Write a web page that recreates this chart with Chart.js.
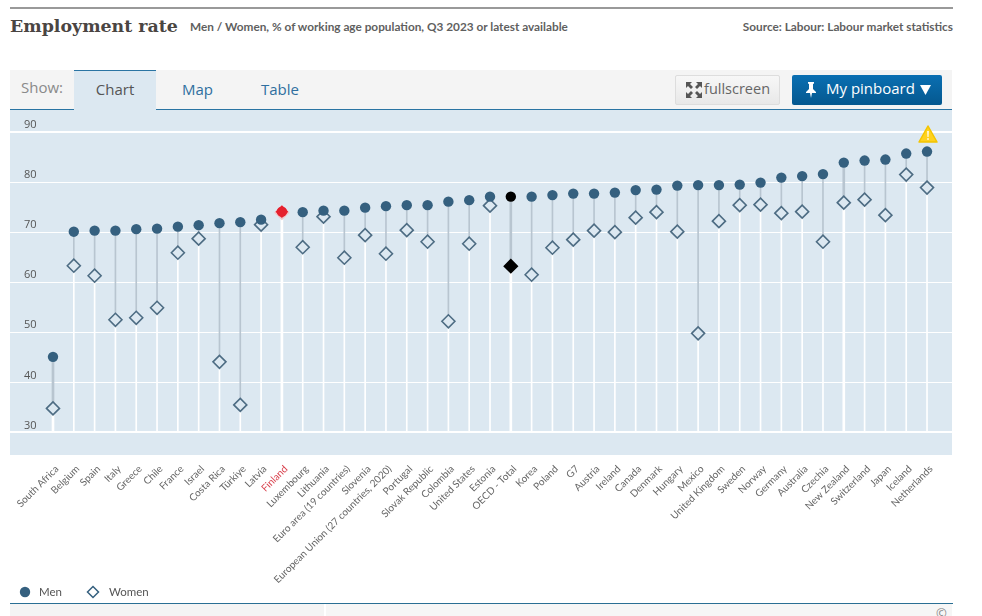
<!DOCTYPE html>
<html>
<head>
<meta charset="utf-8">
<title>Employment rate</title>
<script src="https://cdn.jsdelivr.net/npm/chart.js@4"></script>
<style>
html, body { margin: 0; padding: 0; background: #fff; width: 982px; height: 616px; overflow: hidden; font-family: "Open Sans", sans-serif; }
.abs { position: absolute; white-space: nowrap; }
#topline { left: 10px; top: 7px; width: 943px; height: 2px; background: #999; }
#title { left: 10px; top: 16px; font: bold 17.4px "DejaVu Serif", serif; color: #4a4542; }
#subtitle { left: 190px; top: 19px; font: bold 11.8px Lato, sans-serif; color: #5f5f5f; }
#source { right: 29px; top: 19px; font: bold 11.8px Lato, sans-serif; color: #5f5f5f; }
#tabbar { left: 10px; top: 70px; width: 942px; height: 39px; background: #f4f4f4; border-bottom: 1px solid #2a74a3; }
#show { left: 21px; top: 77px; font-size: 15px; color: #8a8a8a; }
#chartTab { left: 74px; top: 70px; width: 82px; height: 40px; background: #dce8f1; border-top: 1px solid #2a74a3; box-sizing: border-box; text-align: center; line-height: 36px; font-size: 15px; color: #555; }
.tab { top: 79px; font-size: 15px; color: #2f6f9f; }
#fullscreen { left: 675px; top: 75px; width: 105px; height: 30px; box-sizing: border-box; border: 1px solid #ddd; border-radius: 2px; background: linear-gradient(#f7f7f7, #e8e8e8); color: #666; font-size: 14.5px; line-height: 26px; padding-left: 28px; }
#fullscreen svg { position: absolute; left: 10px; top: 6px; }
#pinboard { left: 792px; top: 75px; width: 150px; height: 30px; box-sizing: border-box; border-radius: 2px; background: linear-gradient(#0a6fb2, #05588f); color: #fff; font-size: 15px; line-height: 27px; padding-left: 34px; }
#pinboard svg { position: absolute; left: 13px; top: 7px; }
#plot { left: 10px; top: 110px; width: 942px; height: 345px; background: #dce8f1; }
#wrap { left: 10px; top: 110px; width: 942px; height: 490px; }
#warn { left: 918px; top: 125px; }
.legendText { top: 585px; font: 11.5px Lato, sans-serif; color: #555; }
#botline { left: 10px; top: 603px; width: 943px; height: 1px; background: #2a6f94; }
#botleft { left: 10px; top: 604px; width: 314px; height: 12px; background: #f4f4f4; }
#botright { left: 326px; top: 604px; width: 626px; height: 12px; background: #f6f6f6; }
#copy { left: 936px; top: 604px; font-size: 13px; color: #888; }
</style>
</head>
<body>
<div class="abs" id="topline"></div>
<div class="abs" id="title">Employment rate</div>
<div class="abs" id="subtitle">Men / Women, % of working age population, Q3 2023 or latest available</div>
<div class="abs" id="source">Source: Labour: Labour market statistics</div>

<div class="abs" id="tabbar"></div>
<div class="abs" id="show">Show:</div>
<div class="abs" id="chartTab">Chart</div>
<div class="abs tab" style="left:182px">Map</div>
<div class="abs tab" style="left:261px">Table</div>
<div class="abs" id="fullscreen">
	<svg width="16" height="16" viewBox="0 0 16 16" fill="#555"><path d="M0 0h6L4 2l3 3-2 2-3-3-2 2zM16 0v6l-2-2-3 3-2-2 3-3-2-2zM0 16v-6l2 2 3-3 2 2-3 3 2 2zM16 16h-6l2-2-3-3 2-2 3 3 2-2z"/></svg>fullscreen
</div>
<div class="abs" id="pinboard">
	<svg width="12" height="16" viewBox="0 0 12 16" fill="#fff"><path d="M3 0h6v1.5L8 2v5l3 3v1H7l-1 5-1-5H1v-1l3-3V2L3 1.500z"/></svg>My pinboard
	<svg width="11" height="10" viewBox="0 0 11 10" fill="#fff" style="left:128px;top:10px"><path d="M0 0h11L5.500 10z"/></svg>
</div>

<div class="abs" id="plot"></div>
<div class="abs" id="wrap"><canvas id="chart" width="942" height="490"></canvas></div>
<svg class="abs" id="warn" width="20" height="18" viewBox="0 0 20 18"><path d="M10 1L19 17H1z" fill="#ffd21f" stroke="#f3c400" stroke-width="1.5" stroke-linejoin="round"/><path d="M9.200 6h1.600l-.3 6h-1zM9.200 13.200h1.600v1.600h-1.600z" fill="#fff"/></svg>

<svg class="abs" style="left:19px;top:586px" width="12" height="12"><circle cx="6" cy="6" r="5.200" fill="#35607f"/></svg>
<div class="abs legendText" style="left:39px">Men</div>
<svg class="abs" style="left:86px;top:585px" width="14" height="14"><path d="M7 1.500L12.500 7 7 12.500 1.500 7z" fill="#fff" stroke="#35607f" stroke-width="1.500"/></svg>
<div class="abs legendText" style="left:109px">Women</div>

<div class="abs" id="botline"></div>
<div class="abs" id="botleft"></div>
<div class="abs" id="botright"></div>
<div class="abs" id="copy">©</div>

<script>
const countries = ['South Africa', 'Belgium', 'Spain', 'Italy', 'Greece', 'Chile', 'France', 'Israel', 'Costa Rica', 'Türkiye', 'Latvia', 'Finland', 'Luxembourg', 'Lithuania', 'Euro area (19 countries)', 'Slovenia', 'European Union (27 countries, 2020)', 'Portugal', 'Slovak Republic', 'Colombia', 'United States', 'Estonia', 'OECD - Total', 'Korea', 'Poland', 'G7', 'Austria', 'Ireland', 'Canada', 'Denmark', 'Hungary', 'Mexico', 'United Kingdom', 'Sweden', 'Norway', 'Germany', 'Australia', 'Czechia', 'New Zealand', 'Switzerland', 'Japan', 'Iceland', 'Netherlands'];
const men = [45.1, 70.1, 70.3, 70.3, 70.6, 70.7, 71.1, 71.4, 71.8, 72.0, 72.5, 74.1, 74.0, 74.3, 74.3, 74.9, 75.2, 75.4, 75.4, 76.1, 76.4, 77.1, 77.1, 77.1, 77.4, 77.7, 77.7, 77.9, 78.4, 78.5, 79.3, 79.4, 79.4, 79.5, 79.9, 80.9, 81.2, 81.6, 83.9, 84.3, 84.5, 85.7, 86.1];
const women = [34.8, 63.3, 61.3, 52.5, 52.9, 54.9, 65.9, 68.7, 44.1, 35.5, 71.5, 73.9, 67.0, 73.1, 64.9, 69.4, 65.7, 70.4, 68.1, 52.2, 67.7, 75.3, 63.2, 61.5, 66.9, 68.5, 70.3, 70.0, 72.9, 74.0, 70.1, 49.8, 72.2, 75.4, 75.5, 73.8, 74.1, 68.1, 75.9, 76.5, 73.4, 81.5, 78.9];
const yTicks = [30, 40, 50, 60, 70, 80, 90];

const HIGHLIGHT = 'Finland';
const TOTAL = 'OECD - Total';
const WIDE_DROPS = ['South Africa', 'Finland', 'OECD - Total', 'New Zealand'];
const BASELINE = 30;

const BLUE = '#35607f';
const PANEL = '#dce8f1';
const RED = '#e5202e';
const RANGE = '#b8c5d0';

// floating bars are the drop lines
function dropData(wide, from, to) {
	const out = [];
	countries.forEach((name, i) => {
		if(WIDE_DROPS.includes(name) === wide) {
			out.push({ x: i, y: [from(i), to(i)] });
		}
	});
	return out;
}

const toWomen = i => women[i];
const toMen = i => men[i];
const toBase = i => BASELINE;

function dropSet(data, color, thickness) {
	return { type: 'bar', data: data, backgroundColor: color, barThickness: thickness, grouped: false, order: 5 };
}

// the plot fills the panel edge to edge, labels may hang out
function noMargins(axis) {
	axis.paddingLeft = 0;
	axis.paddingRight = 0;
	axis.paddingTop = 0;
	axis.paddingBottom = 0;
	if(axis._margins) {
		axis._margins.left = 0;
		axis._margins.right = 0;
		axis._margins.top = 0;
		axis._margins.bottom = 0;
	}
}

const finlandIndex = countries.indexOf(HIGHLIGHT);

new Chart(document.getElementById('chart'), {
	data: {
		datasets: [
			dropSet(dropData(false, toBase, toWomen), '#fff', 1),
			dropSet(dropData(true, toBase, toWomen), '#fff', 2),
			dropSet(dropData(false, toWomen, toMen), RANGE, 1),
			dropSet(dropData(true, toWomen, toMen), RANGE, 2),
			{
				type: 'scatter',
				label: 'Women',
				data: women.map((v, i) => ({ x: i, y: v })),
				pointStyle: 'rectRot',
				pointRadius: 6.5,
				pointBorderWidth: 1.6,
				pointBorderColor: ctx => {
					const name = countries[ctx.dataIndex];
					if(name === HIGHLIGHT) return '#f2c4c8';
					return name === TOTAL ? '#000' : '#4d6c83';
				},
				pointBackgroundColor: ctx => countries[ctx.dataIndex] === TOTAL ? '#000' : PANEL,
				order: 3
			},
			{
				type: 'scatter',
				label: 'Men',
				data: men.map((v, i) => ({ x: i, y: v })),
				pointStyle: 'circle',
				pointRadius: 5.2,
				pointBorderWidth: 0,
				pointBackgroundColor: ctx => {
					const name = countries[ctx.dataIndex];
					if(name === HIGHLIGHT) return RED;
					return name === TOTAL ? '#000' : BLUE;
				},
				order: 2
			},
			{
				// Finland's diamond sits on top of its circle
				type: 'scatter',
				label: 'Finland',
				data: [{ x: finlandIndex, y: men[finlandIndex] }],
				pointStyle: 'rectRot',
				pointRadius: 6.4,
				pointBorderWidth: 0,
				pointBackgroundColor: RED,
				order: 1
			}
		]
	},
	options: {
		responsive: false,
		animation: false,
		layout: { padding: 0, autoPadding: false },
		plugins: { legend: { display: false }, tooltip: { enabled: false } },
		scales: {
			x: {
				type: 'linear',
				offset: false,
				min: -2.066,
				max: 43.2,
				grid: { display: false, drawTicks: false },
				border: { display: false },
				afterBuildTicks: axis => { axis.ticks = countries.map((c, i) => ({ value: i })); },
				afterFit: axis => { axis.height = 145; noMargins(axis); },
				ticks: {
					autoSkip: false,
					minRotation: 45,
					maxRotation: 45,
					padding: 8,
					labelOffset: 4,
					font: { family: 'Lato, sans-serif', size: 10 },
					color: ctx => countries[ctx.tick.value] === HIGHLIGHT ? '#d9434f' : '#666',
					callback: value => countries[value]
				}
			},
			y: {
				type: 'linear',
				min: 25.5,
				max: 94.4,
				grid: {
					color: '#fff',
					drawTicks: false,
					lineWidth: ctx => (ctx.tick.value === 90 || ctx.tick.value === 30) ? 2 : 1
				},
				border: { display: false },
				afterBuildTicks: axis => { axis.ticks = yTicks.map(v => ({ value: v })); },
				afterFit: axis => { axis.width = 0; noMargins(axis); },
				ticks: {
					mirror: true,
					padding: 14,
					labelOffset: -7,
					font: { family: '"Open Sans", sans-serif', size: 11 },
					color: '#555'
				}
			}
		}
	}
});
</script>
</body>
</html>
